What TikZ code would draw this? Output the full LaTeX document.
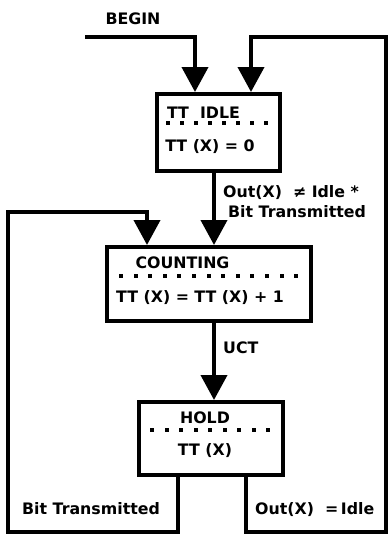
\documentclass[tikz,border=0pt]{standalone}
\usepackage{fontspec}
\setmainfont{DejaVu Sans}
\usetikzlibrary{arrows.meta}

\begin{document}
\begin{tikzpicture}[x=1pt, y=-1pt,
    every node/.style={font=\bfseries\fontsize{15.8}{18}\selectfont},
    box/.style={draw, line width=4pt, inner sep=0pt},
    flow/.style={line width=4pt, -{Triangle[width=26pt,length=25pt]}},
    lbl/.style={inner sep=0pt, anchor=base west},
    ttl/.style={inner sep=0pt, anchor=base}]
    \useasboundingbox (0,0) rectangle (388,536);
    % states
    \node[box, minimum width=123pt, minimum height=77pt] (idle) at (218.5,132.5) {};
    \node[box, minimum width=204pt, minimum height=74pt] (count) at (209,284) {};
    \node[box, minimum width=144pt, minimum height=73pt] (hold) at (211,438.5) {};
    \node[ttl] (idlename) at (203.5,118) {TT\ \ IDLE};
    \node[ttl] (idleact) at (210,151) {TT (X) = 0};
    \node[ttl] (countname) at (182.5,268) {COUNTING};
    \node[ttl] (countact) at (200,302) {TT (X) = TT (X) + 1};
    \node[ttl] (holdname) at (205,423) {HOLD};
    \node[ttl] (holdact) at (205,455) {TT (X)};
    % dotted separators
    \foreach \i in {0,...,7}
        \fill ({165.7+\i*14.1},121) rectangle ++(4,4);
    \foreach \i in {0,...,12}
        \fill ({119+\i*14.6},274) rectangle ++(4,4);
    \foreach \i in {0,...,8}
        \fill ({150+\i*14.5},428) rectangle ++(4,4);
    % connectors
    \coordinate (start) at (85,37);
    \draw[flow] (start) -- (195,37) -- (195,0 |- idle.north);
    \draw[flow] (hold.south -| 246,0) -- (246,532) -- (386,532) -- (386,37)
        -- (251,37) -- (251,0 |- idle.north);
    \draw[flow] (idle.south -| 214,0) -- (214,0 |- count.north);
    \draw[flow] (hold.south -| 178,0) -- (178,532) -- (8,532) -- (8,212)
        -- (147,212) -- (147,0 |- count.north);
    \draw[flow] (count.south -| 214,0) -- (214,0 |- hold.north);
    % labels
    \node[ttl] (begin) at (133,24) {BEGIN};
    \node[lbl] (cond) at (223,197) {Out(X)\ \ ≠ Idle *};
    \node[lbl] (sent) at (228,217) {Bit Transmitted};
    \node[lbl] (uct) at (223,353) {UCT};
    \node[lbl] (back) at (22,514) {Bit Transmitted};
    \node[lbl] (reset) at (255,514) {Out(X)\ \ =\,Idle};
\end{tikzpicture}
\end{document}
